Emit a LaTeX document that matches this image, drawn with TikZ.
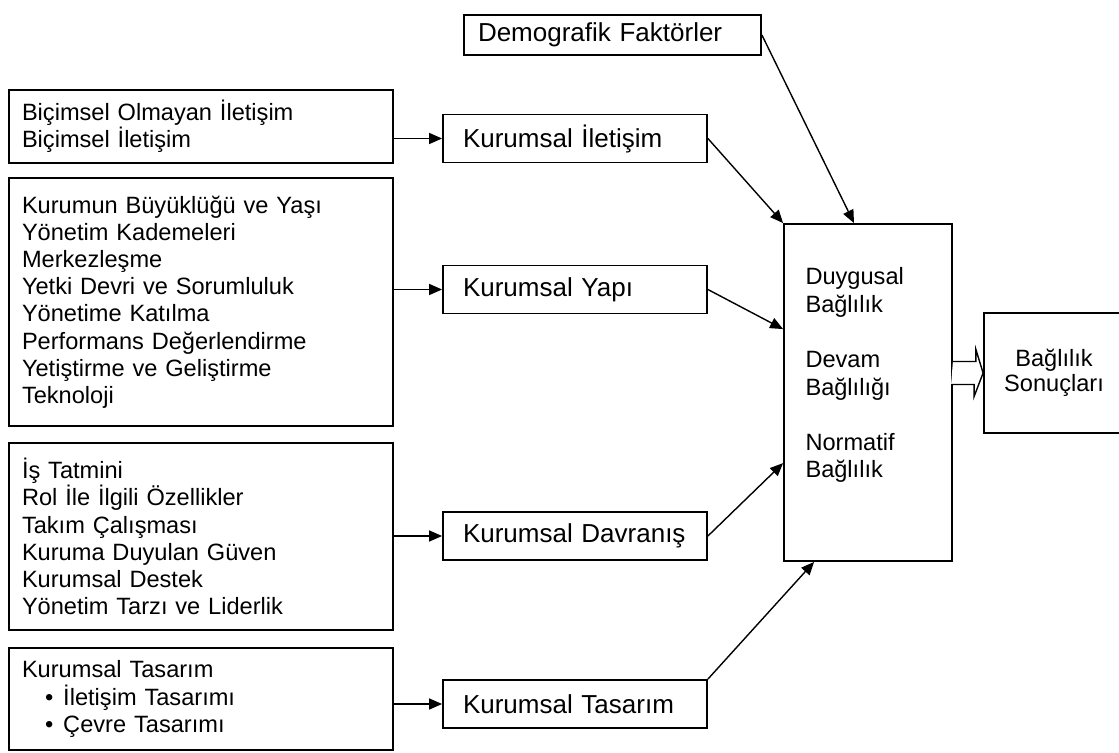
\documentclass[tikz,border=0pt]{standalone}
\usepackage{fontspec}
\setmainfont{Liberation Sans}
\usetikzlibrary{arrows.meta}
\tikzset{
  leftbox/.style={draw,line width=0.9pt,text width=179pt,inner xsep=6.5pt,align=left,font=\fontsize{11.8}{13.6}\selectfont},
  midbox/.style={draw,line width=0.9pt,text width=112pt,inner xsep=10pt,minimum height=24pt,align=left,font=\fontsize{13}{15}\selectfont},
  arr/.style={-{Triangle[length=6.5pt,width=5.5pt]},line width=0.7pt}
}
\begin{document}
\begin{tikzpicture}[x=0.5pt,y=-0.5pt,line join=miter]
\useasboundingbox (0,0) rectangle (1119,753);
% left column
\node[leftbox,minimum height=36.5pt] (iletkaynak) at (201,126.5) {Biçimsel Olmayan İletişim\\Biçimsel İletişim};
\node[leftbox,minimum height=124pt] (yapikaynak) at (201,302) {Kurumun Büyüklüğü ve Yaşı\\Yönetim Kademeleri\\Merkezleşme\\Yetki Devri ve Sorumluluk\\Yönetime Katılma\\Performans Değerlendirme\\Yetiştirme ve Geliştirme\\Teknoloji};
\node[leftbox,minimum height=93.5pt] (davrkaynak) at (201,536.5) {İş Tatmini\\Rol İle İlgili Özellikler\\Takım Çalışması\\Kuruma Duyulan Güven\\Kurumsal Destek\\Yönetim Tarzı ve Liderlik};
\node[leftbox,minimum height=51pt] (tasakaynak) at (201,699) {Kurumsal Tasarım\\\hspace*{11.5pt}\textbullet\hspace{5pt}İletişim Tasarımı\\\hspace*{11.5pt}\textbullet\hspace{5pt}Çevre Tasarımı};
% middle column
\node[midbox] (ilet) at (575,138.5) {Kurumsal İletişim};
\node[midbox] (yapi) at (575,289.5) {Kurumsal Yapı};
\node[midbox] (davr) at (575,536) {\mbox{Kurumsal Davranış}};
\node[midbox] (tasa) at (575,704) {Kurumsal Tasarım};
\node[draw,line width=0.9pt,text width=134.5pt,inner xsep=7pt,minimum height=20pt,align=left,font=\fontsize{13}{15}\selectfont] (demo) at (612.5,35) {Demografik Faktörler};
% commitment
\node[draw,line width=0.9pt,minimum width=84pt,minimum height=168.5pt] (bag) at (868,392.5) {};
\node[anchor=north west,inner sep=0pt,align=left,font=\fontsize{11.8}{13.8}\selectfont] (bagtxt) at ([xshift=11pt,yshift=-22pt]bag.north west) {Duygusal\\Bağlılık\\[13.8pt]Devam\\Bağlılığı\\[13.8pt]Normatif\\Bağlılık};
\node[draw,line width=0.9pt,minimum width=70pt,minimum height=60pt,align=center,font=\fontsize{11.8}{12.5}\selectfont] (sonuc) at (1054,373) {Bağlılık\\Sonuçları};
% arrows
\draw[arr] (iletkaynak.east |- ilet.west) -- (ilet.west);
\draw[arr] (yapikaynak.east |- yapi.west) -- (yapi.west);
\draw[arr] (davrkaynak.east |- davr.west) -- (davr.west);
\draw[arr] (tasakaynak.east |- tasa.west) -- (tasa.west);
\draw[arr] (demo.east) -- ([xshift=-7pt]bag.north);
\draw[arr] (ilet.east) -- (bag.north west);
\draw[arr] (yapi.east) -- ([yshift=-53pt]bag.north west);
\draw[arr] (davr.east) -- ([yshift=-120pt]bag.north west);
\draw[arr] (tasa.north east) -- ([xshift=15.5pt]bag.south west);
\coordinate (ba) at (bag.east |- sonuc.west);
\draw[line width=0.7pt,fill=white] ([yshift=5.75pt]ba) -- ++(23,0) -- ++(0,-12) -- (sonuc.west) -- ++(-9,23.5) -- ++(0,-12) -- ++(-23,0);
\end{tikzpicture}
\end{document}
